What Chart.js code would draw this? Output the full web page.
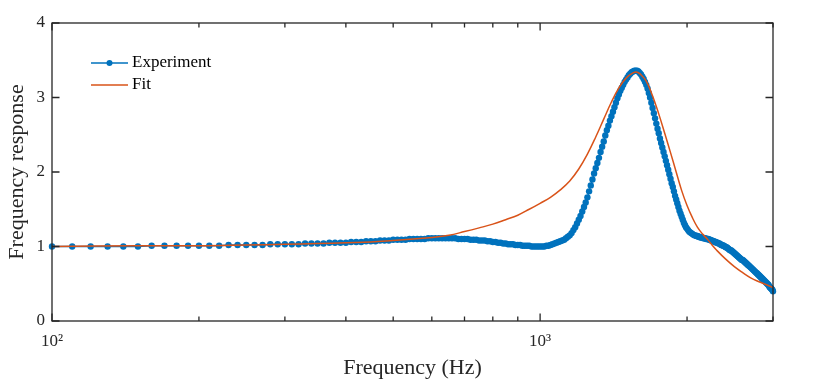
<!DOCTYPE html>
<html>
<head>
<meta charset="utf-8">
<script src="https://cdn.jsdelivr.net/npm/chart.js@4.4.1/dist/chart.umd.min.js"></script>
<style>
  body { margin: 0; background: #fff; }
  #wrap { width: 818px; height: 387px; }
</style>
</head>
<body>
<div id="wrap"><canvas id="chart" width="818" height="387"></canvas></div>
<script>
// Mesure : réponse lue tous les 10 Hz, de 100 Hz à 3000 Hz
const expResponse = [
  1.00, 1.00, 1.00, 1.00, 1.00, 1.00, 1.01, 1.01, 1.01, 1.01,
  1.01, 1.01, 1.01, 1.02, 1.02, 1.02, 1.02, 1.02, 1.03, 1.03,
  1.03, 1.03, 1.03, 1.04, 1.04, 1.04, 1.04, 1.05, 1.05, 1.05,
  1.05, 1.06, 1.06, 1.06, 1.07, 1.07, 1.07, 1.08, 1.08, 1.08,
  1.09, 1.09, 1.09, 1.09, 1.10, 1.10, 1.10, 1.10, 1.10, 1.11,
  1.11, 1.11, 1.11, 1.11, 1.11, 1.11, 1.11, 1.11, 1.10, 1.10,
  1.10, 1.10, 1.09, 1.09, 1.09, 1.08, 1.08, 1.08, 1.07, 1.07,
  1.06, 1.06, 1.05, 1.05, 1.04, 1.04, 1.03, 1.03, 1.03, 1.02,
  1.02, 1.02, 1.01, 1.01, 1.01, 1.01, 1.00, 1.00, 1.00, 1.00,
  1.00, 1.00, 1.00, 1.01, 1.01, 1.02, 1.03, 1.04, 1.05, 1.06,
  1.07, 1.08, 1.09, 1.11, 1.13, 1.15, 1.18, 1.22, 1.26, 1.31,
  1.36, 1.41, 1.47, 1.53, 1.59, 1.66, 1.74, 1.82, 1.90, 1.98,
  2.05, 2.12, 2.19, 2.27, 2.34, 2.41, 2.49, 2.56, 2.62, 2.69,
  2.75, 2.81, 2.87, 2.93, 2.99, 3.04, 3.09, 3.13, 3.17, 3.21,
  3.24, 3.27, 3.30, 3.32, 3.34, 3.35, 3.36, 3.36, 3.36, 3.35,
  3.33, 3.31, 3.28, 3.25, 3.21, 3.17, 3.12, 3.06, 3.00, 2.93,
  2.86, 2.79, 2.72, 2.65, 2.58, 2.52, 2.45, 2.39, 2.33, 2.27,
  2.21, 2.15, 2.09, 2.03, 1.97, 1.91, 1.85, 1.80, 1.74, 1.68,
  1.63, 1.58, 1.53, 1.48, 1.44, 1.40, 1.36, 1.32, 1.29, 1.26,
  1.24, 1.22, 1.20, 1.19, 1.18, 1.17, 1.16, 1.15, 1.15, 1.14,
  1.14, 1.13, 1.13, 1.12, 1.12, 1.12, 1.11, 1.11, 1.11, 1.10,
  1.10, 1.10, 1.09, 1.09, 1.08, 1.08, 1.07, 1.07, 1.06, 1.06,
  1.05, 1.05, 1.04, 1.04, 1.03, 1.02, 1.02, 1.01, 1.01, 1.00,
  0.99, 0.99, 0.98, 0.97, 0.96, 0.95, 0.95, 0.94, 0.93, 0.92,
  0.91, 0.90, 0.89, 0.88, 0.87, 0.86, 0.85, 0.84, 0.83, 0.82,
  0.82, 0.81, 0.80, 0.79, 0.78, 0.77, 0.76, 0.75, 0.74, 0.73,
  0.72, 0.71, 0.70, 0.69, 0.68, 0.67, 0.66, 0.65, 0.64, 0.63,
  0.62, 0.61, 0.60, 0.59, 0.58, 0.57, 0.56, 0.55, 0.54, 0.53,
  0.52, 0.51, 0.50, 0.49, 0.48, 0.46, 0.45, 0.44, 0.43, 0.42,
  0.40
];
// grille en fréquence de la mesure (pas de 10 Hz)
const expFreq = expResponse.map((_, i) => 100 + 10 * i);

// Modèle ajusté
const fitFreq = [100, 150, 200, 250, 300, 350, 400, 450, 500, 550, 600, 650, 700, 750, 800, 850, 900, 950,
  1000, 1050, 1100, 1150, 1200, 1250, 1300, 1350, 1400, 1450, 1500, 1550, 1580, 1600, 1650, 1700, 1750,
  1800, 1850, 1900, 1950, 2000, 2050, 2100, 2150, 2200, 2250, 2300, 2400, 2500, 2600, 2700, 2800, 2900, 3000];
const fitResponse = [1.00, 1.01, 1.01, 1.02, 1.03, 1.04, 1.05, 1.06, 1.08, 1.10, 1.12, 1.15, 1.20, 1.25, 1.30, 1.36, 1.42, 1.50,
  1.58, 1.66, 1.76, 1.88, 2.04, 2.24, 2.47, 2.71, 2.94, 3.13, 3.26, 3.33, 3.34, 3.32, 3.22, 3.02, 2.78,
  2.52, 2.26, 2.00, 1.75, 1.55, 1.39, 1.26, 1.17, 1.10, 1.02, 0.95, 0.83, 0.73, 0.65, 0.58, 0.53, 0.49, 0.45];

// Graduations
const xMajorTicks = [100, 1000];
const xMinorTicks = [200, 300, 400, 500, 600, 700, 800, 900, 2000, 3000];
const yTicks = [0, 1, 2, 3, 4];
const seriesNames = ["Experiment", "Fit"];

const blue = '#0072BD';
const orange = '#D95319';
const axisColor = '#262626';
const serif = "'Liberation Serif', 'DejaVu Serif', serif";
const sup = { 2: '\u00B2', 3: '\u00B3' };

// Cadre + graduations vers l'intérieur (style MATLAB) et légende
const frame = {
    id: 'frame',
    afterDraw(chart) {
        const { ctx, chartArea: a, scales: { x, y } } = chart;
        ctx.save();
        ctx.strokeStyle = axisColor;
        ctx.lineWidth = 1.3;
        ctx.strokeRect(a.left, a.top, a.right - a.left, a.bottom - a.top);
        ctx.beginPath();
        const xt = (v, len) => {
            const px = x.getPixelForValue(v);
            ctx.moveTo(px, a.bottom); ctx.lineTo(px, a.bottom - len);
            ctx.moveTo(px, a.top); ctx.lineTo(px, a.top + len);
        };
        xMajorTicks.forEach(v => xt(v, 7.5));
        xMinorTicks.forEach(v => xt(v, 4.5));
        yTicks.forEach(v => {
            const py = y.getPixelForValue(v);
            ctx.moveTo(a.left, py); ctx.lineTo(a.left + 7.5, py);
            ctx.moveTo(a.right, py); ctx.lineTo(a.right - 7.5, py);
        });
        ctx.stroke();

        // légende
        const lx = a.left + 39, ly = a.top + 40, gap = 22;
        ctx.lineWidth = 1.5;
        ctx.strokeStyle = blue;
        ctx.beginPath(); ctx.moveTo(lx, ly); ctx.lineTo(lx + 37, ly); ctx.stroke();
        ctx.fillStyle = blue;
        ctx.beginPath(); ctx.arc(lx + 18.5, ly, 3, 0, Math.PI * 2); ctx.fill();
        ctx.strokeStyle = orange;
        ctx.beginPath(); ctx.moveTo(lx, ly + gap); ctx.lineTo(lx + 37, ly + gap); ctx.stroke();
        ctx.fillStyle = '#000';
        ctx.font = "17px " + serif;
        ctx.textBaseline = 'middle';
        ctx.fillText(seriesNames[0], lx + 41, ly);
        ctx.fillText(seriesNames[1], lx + 41, ly + gap);
        ctx.restore();
    }
};

const ctx = document.getElementById("chart");

const config = {
    type: "line",
    data: {
        datasets: [
            {
                label: seriesNames[0],
                data: expFreq.map((f, i) => ({ x: f, y: expResponse[i] })),
                borderColor: blue,
                backgroundColor: blue,
                borderWidth: 1.3,
                pointRadius: 3.2,
                pointBorderWidth: 0,
                pointBackgroundColor: blue,
                clip: false,
                order: 2,
            },
            {
                label: seriesNames[1],
                data: fitFreq.map((f, i) => ({ x: f, y: fitResponse[i] })),
                borderColor: orange,
                borderWidth: 1.5,
                pointRadius: 0,
                tension: 0.4,
                order: 1,
            },
        ],
    },
    options: {
        responsive: false,
        animation: false,
        layout: { padding: { left: 0, right: 45, top: 23, bottom: 0 } },
        plugins: { legend: { display: false }, tooltip: { enabled: false } },
        scales: {
            x: {
                type: 'logarithmic',
                min: 100,
                max: 3000,
                afterBuildTicks: s => { s.ticks = xMajorTicks.map(v => ({ value: v })); },
                afterFit: s => { s.height = 66; },
                grid: { display: false, drawTicks: false },
                border: { display: false },
                ticks: {
                    autoSkip: false,
                    maxRotation: 0,
                    padding: 10,
                    color: axisColor,
                    font: { family: serif, size: 17 },
                    callback: v => '10' + sup[Math.round(Math.log10(v))],
                },
                title: {
                    display: true,
                    text: 'Frequency (Hz)',
                    color: axisColor,
                    font: { family: serif, size: 22 },
                    padding: { top: 0, bottom: 6 },
                },
            },
            y: {
                min: 0,
                max: 4,
                afterBuildTicks: s => { s.ticks = yTicks.map(v => ({ value: v })); },
                afterFit: s => { s.width = 52; },
                grid: { display: false, drawTicks: false },
                border: { display: false },
                ticks: {
                    padding: 7,
                    color: axisColor,
                    font: { family: serif, size: 17 },
                },
                title: {
                    display: true,
                    text: 'Frequency response',
                    color: axisColor,
                    font: { family: serif, size: 22 },
                    padding: { top: 4, bottom: 0 },
                },
            },
        },
    },
    plugins: [frame],
};

var chart = new Chart(ctx, config);
</script>
</body>
</html>
